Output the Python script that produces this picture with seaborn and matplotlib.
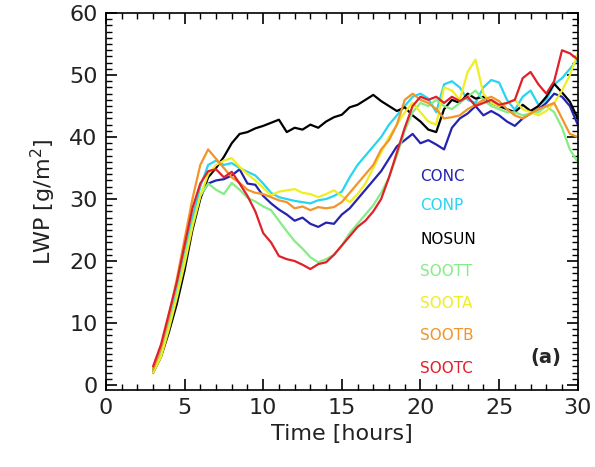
import numpy as np
import pandas as pd
import seaborn as sns
import matplotlib.pyplot as plt
from matplotlib.ticker import MultipleLocator

# Zeitachse (Stunden), halbstündlich
time_h = np.arange(3.0, 30.01, 0.5)

conc = [2.5, 5, 9.5, 14.5, 20, 26, 30.5, 32.5, 33, 33.2, 33.8, 34.8, 32.5, 32.3, 30.5, 29.3,
        28.3, 27.5, 26.5, 27, 26, 25.5, 26.2, 26, 27.5, 28.5, 30, 31.5, 33, 34.5, 36.5, 38.5,
        39.5, 40.5, 39, 39.5, 38.8, 38, 41.5, 43, 43.8, 45, 43.5, 44.2, 43.5, 42.5, 41.8, 43,
        43.8, 44.5, 45.5, 47, 46.5, 45, 42]
conp = [2.5, 5.5, 10, 15, 21, 27, 32, 35.5, 36.2, 35.5, 35.8, 35, 34.4, 33.8, 32.5, 31,
        30.3, 30, 29.7, 29.5, 29.3, 29.8, 30, 30.5, 31.2, 33.5, 35.5, 37, 38.5, 40, 42, 43.5,
        45, 46.5, 47, 46.2, 44, 48.5, 49, 48, 46, 45.5, 48, 49.2, 48.8, 46, 44.4, 46.5,
        47.5, 45.2, 46, 48.5, 49.5, 51, 52.5]
nosun = [2, 4.5, 8.5, 13, 18.5, 25, 30, 33.5, 35, 36.8, 39, 40.5, 40.8, 41.4, 41.8, 42.3,
         42.8, 40.8, 41.5, 41.2, 42, 41.5, 42.5, 43.2, 43.6, 44.8, 45.2, 46, 46.8, 45.8, 45, 44.2,
         44.8, 43.5, 42.5, 41.2, 40.8, 44.5, 46, 45.5, 47, 46.2, 46.5, 45.5, 45, 44.5, 44, 45.2,
         44.2, 45, 46.5, 48.6, 47.2, 45.7, 43]
soott = [2.5, 5, 9.5, 14.5, 20.5, 26, 30.5, 32.5, 31.5, 30.8, 32.6, 31.5, 30.2, 29.6, 28.8, 28.2,
         26.5, 24.8, 23.2, 22, 20.6, 19.8, 20.3, 21, 22.5, 24.5, 26, 27.5, 29, 31, 33.5, 37,
         41, 44, 45.5, 45, 46, 45, 44.5, 45.5, 46.5, 47.5, 46, 45, 44.5, 44, 44, 43.5,
         43.8, 44, 45, 44, 41.5, 38, 36]
soota = [2, 4.5, 9, 14, 19.5, 25.5, 30.5, 34, 35.5, 36.2, 36.6, 35.2, 34, 33, 31.8, 30.6,
         31.2, 31.4, 31.6, 31, 30.8, 30.3, 30.8, 31.4, 30.5, 29.5, 30.8, 32.5, 35, 37.5, 40, 42,
         44, 45.5, 44, 42.5, 42, 48, 47.5, 46, 50.5, 52.5, 47, 45.5, 45, 45.5, 46, 44.5,
         44, 43.5, 44.2, 45.5, 47.5, 50, 53.5]
sootb = [2.5, 6, 11, 17, 23.5, 30, 35.5, 38, 36.5, 35, 33.5, 32.6, 31.5, 31, 30.8, 30.3,
         29.8, 29.5, 28.5, 28.8, 28.2, 28.7, 28.5, 28.7, 29.5, 31, 32.5, 34, 35.5, 38, 39.5, 42,
         46, 47, 46, 45.5, 44.5, 43, 43.2, 43.5, 44.5, 45.2, 46, 46.5, 45.8, 44.5, 43.5, 43,
         43.8, 44.5, 45, 45.5, 43, 40.5, 40]
sootc = [3, 6.5, 11.5, 16.5, 22.5, 28.5, 32.5, 34.5, 34.8, 33.5, 34.4, 32.5, 30.5, 28, 24.5, 23,
         20.8, 20.3, 20, 19.4, 18.7, 19.5, 19.8, 21, 22.5, 24, 25.5, 26.5, 28, 30, 33.5, 37.5,
         41.5, 45, 46.5, 46, 46.5, 45.5, 46.5, 45.8, 46.5, 45, 45.5, 46, 45.2, 45.5, 46, 49.5,
         50.5, 48.5, 47, 49, 54, 53.5, 52.5]

runs = ['CONC', 'CONP', 'NOSUN', 'SOOTT', 'SOOTA', 'SOOTB', 'SOOTC']
series = [conc, conp, nosun, soott, soota, sootb, sootc]
colors = ['#2424b0', '#28d4f2', '#000000', '#86ec86', '#eeee22', '#f29428', '#e0202a']
palette = dict(zip(runs, colors))

df = pd.concat([pd.DataFrame({'Time': time_h, 'LWP': vals, 'run': name})
                for name, vals in zip(runs, series)], ignore_index=True)

sns.set_style("white")
plt.rcParams['font.family'] = ['DejaVu Sans']

fig = plt.figure(figsize=(5.95, 4.67), dpi=100)
ax = fig.add_axes([0.178, 0.165, 0.793, 0.807])

sns.lineplot(data=df, x='Time', y='LWP', hue='run', hue_order=runs, palette=palette,
             linewidth=1.6, legend=False, ax=ax, estimator=None, sort=False)

ax.set_xlim(0, 30)
ax.set_ylim(-0.8, 60)
ax.xaxis.set_major_locator(MultipleLocator(5))
ax.xaxis.set_minor_locator(MultipleLocator(1))
ax.yaxis.set_major_locator(MultipleLocator(10))
ax.yaxis.set_minor_locator(MultipleLocator(1))
ax.tick_params(which='both', direction='in', left=True, bottom=True, top=True, right=True,
               color='black')
ax.tick_params(which='major', length=8, width=1.2, labelsize=16, pad=6, labelcolor='#222222')
ax.tick_params(which='minor', length=4, width=1)
for sp in ax.spines.values():
    sp.set_color('black')
    sp.set_linewidth(1.2)

ax.set_xlabel('Time [hours]', fontsize=16, color='#222222', labelpad=4)
ax.set_ylabel('LWP [g/m$^2$]', fontsize=16, color='#222222', labelpad=8)

# Beschriftung der Läufe
label_y = [33.7, 28.9, 23.4, 18.3, 13.2, 8.0, 2.7]
for name, yy in zip(runs, label_y):
    ax.text(20.0, yy, name, color=palette[name], fontsize=11, va='center', ha='left')

ax.text(27.0, 4.4, '(a)', fontsize=14, fontweight='bold', va='center', ha='left')

fig.savefig('out.png', dpi=100)
